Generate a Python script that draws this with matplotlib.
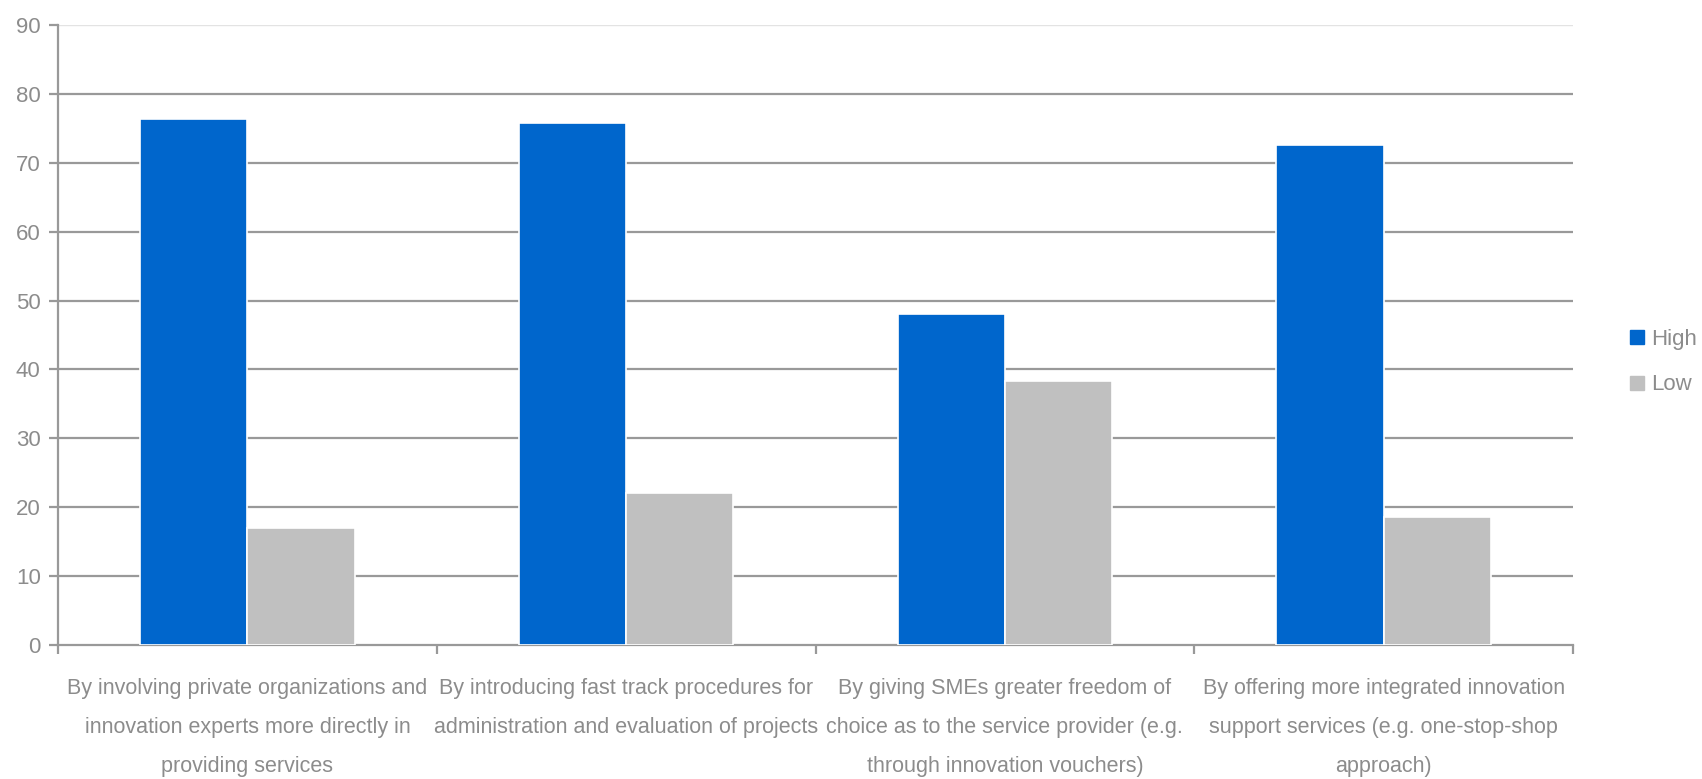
import matplotlib.pyplot as plt
import numpy as np
from matplotlib.lines import Line2D

plt.rcParams["font.family"] = ["Liberation Sans", "DejaVu Sans"]

categories = [
    "By involving private organizations and\ninnovation experts more directly in\nproviding services",
    "By introducing fast track procedures for\nadministration and evaluation of projects",
    "By giving SMEs greater freedom of\nchoice as to the service provider (e.g.\nthrough innovation vouchers)",
    "By offering more integrated innovation\nsupport services (e.g. one-stop-shop\napproach)",
]
high = [76.3, 75.7, 48.0, 72.5]
low = [17.0, 22.0, 38.3, 18.6]
series_names = ["High", "Low"]
colors = ["#0066CC", "#C0C0C0"]

text_col = "#8C8C8C"
grid_col = "#999999"

fig = plt.figure(figsize=(17.02, 7.79), dpi=100)
ax = fig.add_axes([0.0341, 0.172, 0.8901, 0.796])

x = np.arange(len(categories))
w = 0.283
ax.bar(x - w / 2, high, w, color=colors[0], edgecolor="white", linewidth=1.2, zorder=3)
ax.bar(x + w / 2, low, w, color=colors[1], edgecolor="white", linewidth=1.2, zorder=3)

ax.set_xlim(-0.5, len(categories) - 0.5)
ax.set_ylim(0, 90)
ax.set_yticks(np.arange(0, 91, 10))

# gridlines, top one is much lighter in the original
for y in range(10, 90, 10):
    ax.axhline(y, color=grid_col, linewidth=1.6, zorder=1)
ax.axhline(90, color="#E3E3E3", linewidth=1.0, zorder=1)

for side in ["top", "right"]:
    ax.spines[side].set_visible(False)
for side in ["left", "bottom"]:
    ax.spines[side].set_color(grid_col)
    ax.spines[side].set_linewidth(1.6)

ax.set_xticks(x)
ax.set_xticklabels(categories, fontsize=15.5, color=text_col, linespacing=2.1)
ax.set_xticks(np.arange(-0.5, len(categories), 1), minor=True)
ax.tick_params(axis="x", which="major", length=0, pad=24)
ax.tick_params(axis="x", which="minor", length=6.5, width=1.6, color=grid_col)
ax.tick_params(axis="y", length=6.5, width=1.6, color=grid_col, labelsize=16,
               labelcolor=text_col, pad=6)

handles = [Line2D([], [], marker="s", linestyle="none", markersize=9.5,
                  color=c) for c in colors]
leg = fig.legend(handles, series_names, loc="center left",
                 bbox_to_anchor=(0.949, 0.535), frameon=False, fontsize=16,
                 handletextpad=0.1, labelspacing=1.1, borderpad=0,
                 handlelength=1.0)
for t in leg.get_texts():
    t.set_color(text_col)

fig.savefig("out.png", dpi=100)
